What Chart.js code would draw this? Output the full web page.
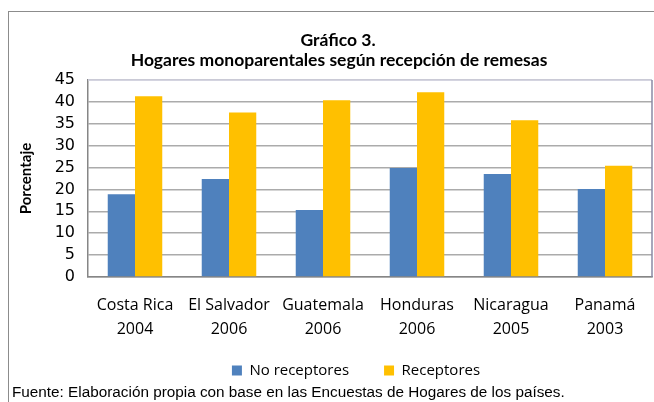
<!DOCTYPE html>
<html>
<head>
<meta charset="utf-8">
<script src="https://cdn.jsdelivr.net/npm/chart.js@4"></script>
<style>
  body { margin: 0; background: #fff; }
  #wrap { position: relative; width: 654px; height: 402px; overflow: hidden; }
  #frame { position: absolute; left: 8px; top: 11px; width: 700px; height: 440px; border: 1px solid #8c8c8c; }
  canvas { position: absolute; left: 0; top: 0; }
</style>
</head>
<body>
<div id="wrap">
  <div id="frame"></div>
  <canvas id="chart" width="654" height="402"></canvas>
</div>
<script>
// Hogares monoparentales según recepción de remesas
const countries = [['Costa Rica', '2004'], ['El Salvador', '2006'], ['Guatemala', '2006'], ['Honduras', '2006'], ['Nicaragua', '2005'], ['Panamá', '2003']];
const noReceptores = [18.9, 22.4, 15.3, 24.9, 23.5, 20.1];
const receptores = [41.3, 37.6, 40.4, 42.2, 35.8, 25.4];
const yTicks = [0, 5, 10, 15, 20, 25, 30, 35, 40, 45];

const titleLines = ['Gráfico 3.', 'Hogares monoparentales según recepción de remesas'];
const footerText = 'Fuente: Elaboración propia con base en las Encuestas de Hogares de los países.';

const palette = { blue: '#4f81bd', yellow: '#ffc000', grid: '#ababab', ink: '#000' };

// title, footer and plot frame drawn by hand
const decor = {
  id: 'decor',
  afterLayout(chart) {
    // legend sits right of centre and tucked up under the labels in the original
    const lg = chart.legend;
    lg.left += 30; lg.right += 30;
    lg.top -= 12; lg.bottom -= 12;
  },
  afterDraw(chart) {
    const { ctx, chartArea: a } = chart;
    ctx.save();
    ctx.fillStyle = palette.ink;
    ctx.textAlign = 'center';
    ctx.textBaseline = 'middle';
    ctx.font = 'bold 17.5px Lato';
    ctx.fillText(titleLines[0], 338, 40);
    ctx.fillText(titleLines[1], 339, 60);
    ctx.textAlign = 'left';
    ctx.font = '15.3px "Liberation Sans"';
    ctx.fillText(footerText, 12, 393);
    // plot border
    ctx.lineWidth = 1.5;
    ctx.strokeStyle = '#d4d4e4';
    ctx.beginPath(); ctx.moveTo(a.left, a.top); ctx.lineTo(a.right, a.top); ctx.stroke();
    ctx.strokeStyle = '#8a8aa4';
    ctx.beginPath(); ctx.moveTo(a.right, a.top); ctx.lineTo(a.right, a.bottom); ctx.stroke();
    ctx.restore();
  }
};

new Chart(document.getElementById('chart'), {
  type: 'bar',
  data: {
    labels: countries,
    datasets: [
      { label: 'No receptores', data: noReceptores, backgroundColor: palette.blue },
      { label: 'Receptores', data: receptores, backgroundColor: palette.yellow },
    ],
  },
  options: {
    responsive: false,
    animation: false,
    layout: { padding: { top: 80, right: 2, bottom: 2, left: 0 } },
    datasets: { bar: { categoryPercentage: 0.58, barPercentage: 1 } },
    plugins: {
      title: { display: false },
      tooltip: { enabled: false },
      legend: {
        position: 'bottom',
        labels: {
          boxWidth: 10, boxHeight: 10, padding: 35, color: palette.ink,
          font: { family: 'Open Sans', size: 15 },
        },
      },
    },
    scales: {
      x: {
        afterFit(scale) { scale.height -= 17; },
        grid: { display: false, drawTicks: false },
        border: { color: '#868686', width: 1.5 },
        ticks: { color: palette.ink, font: { family: 'Open Sans', size: 16, lineHeight: 1.5 }, padding: 16 },
      },
      y: {
        min: 0, max: 45,
        afterBuildTicks(scale) { scale.ticks = yTicks.map(v => ({ value: v })); },
        afterFit(scale) { scale.width = 88; },
        grid: { color: palette.grid, lineWidth: 1.5, drawTicks: false },
        border: { color: '#868686', width: 1.5 },
        ticks: { autoSkip: false, color: palette.ink, font: { family: 'DejaVu Sans', size: 16 }, padding: 13 },
        title: {
          display: true, text: 'Porcentaje', color: palette.ink,
          font: { family: 'Lato', size: 15, weight: 'bold' }, padding: { top: 17, bottom: 0 },
        },
      },
    },
  },
  plugins: [decor],
});
</script>
</body>
</html>
